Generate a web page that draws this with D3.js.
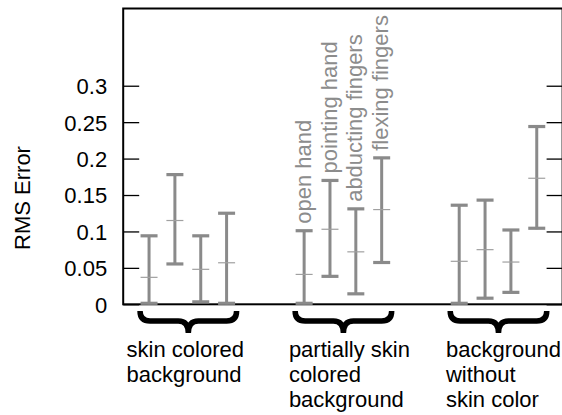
<!DOCTYPE html>
<html>
<head>
<meta charset="utf-8">
<script src="https://cdn.jsdelivr.net/npm/d3@7"></script>
<style>
  body { margin: 0; background: #fff; }
  text { font-family: "Liberation Sans", Arial, sans-serif; }
</style>
</head>
<body>
<div id="content"></div>
<script>
var groupLabels = [
    ['skin colored', 'background'],
    ['partially skin', 'colored', 'background'],
    ['background', 'without', 'skin color']
];
var gestures = ['open hand', 'pointing hand', 'abducting fingers', 'flexing fingers'];

// one row per background group, one value per gesture
var means = [
    [0.037, 0.115, 0.048, 0.057],
    [0.041, 0.103, 0.072, 0.130],
    [0.059, 0.075, 0.058, 0.173]
];
var lows = [
    [0.000, 0.054, 0.002, 0.000],
    [0.000, 0.037, 0.013, 0.056],
    [0.000, 0.007, 0.015, 0.103]
];
var highs = [
    [0.094, 0.178, 0.094, 0.125],
    [0.101, 0.170, 0.131, 0.201],
    [0.136, 0.143, 0.102, 0.244]
];
var yTicks = [0, 0.05, 0.1, 0.15, 0.2, 0.25, 0.3];
var yTickLabels = ['0', '0.05', '0.1', '0.15', '0.2', '0.25', '0.3'];

var width = 562, height = 415;
var barGrey = '#8a8a8a';
var fontSize = '22px';

var svg = d3.select('#content').append('svg')
    .attr('width', width)
    .attr('height', height);

// 4 bars + 2 empty slots per group
var slotsPerGroup = 6;
var xScale = d3.scaleLinear()
    .domain([-1, 16])
    .range([123.2, 562.6]);

var yScale = d3.scaleLinear()
    .domain([0, 0.406])
    .range([304.3, 8.5]);

var bars = [];
means.forEach(function(row, g){
    row.forEach(function(m, i){
        bars.push({g: g, i: i, slot: g * slotsPerGroup + i, mean: m, low: lows[g][i], high: highs[g][i]});
    });
});

// left axis with inward ticks
var yAxis = d3.axisLeft(yScale)
    .tickValues(yTicks)
    .tickFormat(function(d, i){ return yTickLabels[i]; })
    .tickSizeInner(-16)
    .tickSizeOuter(0)
    .tickPadding(16);

var yGuide = svg.append('g')
    .attr('transform', 'translate(' + xScale(-1) + ',0)');
yAxis(yGuide);
yGuide.select('.domain').remove();
yGuide.selectAll('line').style('stroke', '#000').style('stroke-width', 1.3);
yGuide.selectAll('text')
    .style('font-size', fontSize)
    .style('fill', '#000')
    .attr('dy', '0.36em');

// right side ticks, no labels
var yAxisR = d3.axisRight(yScale)
    .tickValues(yTicks)
    .tickFormat('')
    .tickSizeInner(-16)
    .tickSizeOuter(0);
var yGuideR = svg.append('g')
    .attr('transform', 'translate(' + xScale(16) + ',0)');
yAxisR(yGuideR);
yGuideR.select('.domain').remove();
yGuideR.selectAll('line').style('stroke', '#000').style('stroke-width', 1.3);

// frame
svg.append('rect')
    .attr('x', xScale(-1))
    .attr('y', yScale.range()[1])
    .attr('width', xScale(16) - xScale(-1))
    .attr('height', yScale(0) - yScale.range()[1])
    .style('fill', 'none')
    .style('stroke', '#000')
    .style('stroke-width', 2);

svg.append('text')
    .attr('transform', 'translate(22,198) rotate(-90)')
    .attr('text-anchor', 'middle')
    .attr('dy', '0.36em')
    .style('font-size', fontSize)
    .text('RMS Error');

// error bars
var capW = 8.5;
var barG = svg.append('g').selectAll('g').data(bars)
    .enter().append('g');

barG.append('line')
    .attr('x1', function(d){ return xScale(d.slot); })
    .attr('x2', function(d){ return xScale(d.slot); })
    .attr('y1', function(d){ return yScale(d.low); })
    .attr('y2', function(d){ return yScale(d.high); })
    .style('stroke', barGrey)
    .style('stroke-width', 3);

barG.append('line')
    .attr('x1', function(d){ return xScale(d.slot) - capW; })
    .attr('x2', function(d){ return xScale(d.slot) + capW; })
    .attr('y1', function(d){ return yScale(d.high); })
    .attr('y2', function(d){ return yScale(d.high); })
    .style('stroke', barGrey)
    .style('stroke-width', 3.2);

barG.append('line')
    .attr('x1', function(d){ return xScale(d.slot) - capW; })
    .attr('x2', function(d){ return xScale(d.slot) + capW; })
    .attr('y1', function(d){ return yScale(d.low) - 1; })
    .attr('y2', function(d){ return yScale(d.low) - 1; })
    .style('stroke', barGrey)
    .style('stroke-width', 3.2);

barG.append('line')
    .attr('x1', function(d){ return xScale(d.slot) - capW; })
    .attr('x2', function(d){ return xScale(d.slot) + capW; })
    .attr('y1', function(d){ return yScale(d.mean); })
    .attr('y2', function(d){ return yScale(d.mean); })
    .style('stroke', '#a0a0a0')
    .style('stroke-width', 1.2);

// gesture names above the middle group
svg.append('g').selectAll('text')
    .data(bars.filter(function(d){ return d.g === 1; }))
    .enter().append('text')
    .attr('transform', function(d){
        return 'translate(' + xScale(d.slot) + ',' + (yScale(d.high) - 7) + ') rotate(-90)';
    })
    .attr('dy', '0.3em')
    .style('font-size', fontSize)
    .style('fill', '#8c8c8c')
    .text(function(d){ return gestures[d.i]; });

// braces and group labels
var braceTop = 311, braceMid = 321, braceTip = 333, r = 10;
var labelNudge = [-3, 6, 5];
groupLabels.forEach(function(lines, g){
    var x1 = xScale(g * slotsPerGroup) - 9,
        x2 = xScale(g * slotsPerGroup + 3) + 10,
        xm = (x1 + x2) / 2;
    var p = d3.path();
    p.moveTo(x1, braceTop);
    p.quadraticCurveTo(x1, braceMid, x1 + r, braceMid);
    p.lineTo(xm - r, braceMid);
    p.quadraticCurveTo(xm, braceMid, xm, braceTip);
    p.moveTo(x2, braceTop);
    p.quadraticCurveTo(x2, braceMid, x2 - r, braceMid);
    p.lineTo(xm + r, braceMid);
    p.quadraticCurveTo(xm, braceMid, xm, braceTip);
    svg.append('path')
        .attr('d', p.toString())
        .style('fill', 'none')
        .style('stroke', '#000')
        .style('stroke-width', 5.5);

    var label = svg.append('text')
        .style('font-size', fontSize)
        .style('fill', '#000');
    label.selectAll('tspan').data(lines)
        .enter().append('tspan')
        .attr('y', function(d, i){ return 357 + i * 25; })
        .text(function(d){ return d; });
    var widest = 0;
    label.selectAll('tspan').each(function(){
        widest = Math.max(widest, this.getComputedTextLength());
    });
    label.selectAll('tspan').attr('x', xm - widest / 2 + labelNudge[g]);
});
</script>
</body>
</html>
